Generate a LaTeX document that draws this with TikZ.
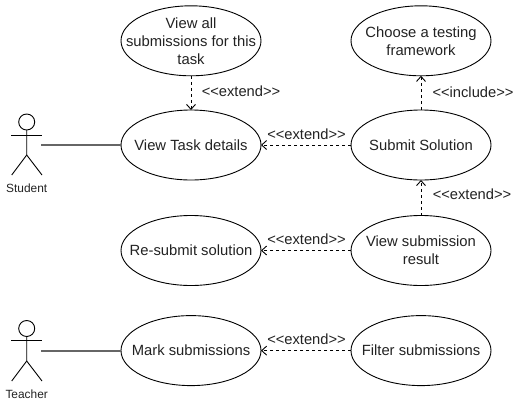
\documentclass[tikz,border=0pt]{standalone}
\usepackage{fontspec}
\setmainfont{Liberation Sans}
\usetikzlibrary{shapes.geometric,arrows.meta}
\definecolor{ink}{HTML}{222222}
\tikzset{
  x=1pt,y=-1pt,
  usecase/.style={draw=black,line width=0.9pt,ellipse,minimum width=140pt,minimum height=70pt,inner xsep=-35pt,inner ysep=-12pt,outer sep=0pt,align=center,font=\fontsize{14.8}{18}\selectfont,text=ink},
  rel/.style={draw=black,line width=0.9pt,dash pattern=on 3pt off 3pt,-{Straight Barb[length=5pt,width=9pt,line width=0.9pt]}},
  assoc/.style={draw=black!60,line width=1.8pt},
  stereo/.style={font=\fontsize{14.7}{16}\selectfont,text=ink,inner sep=0pt},
  actorlabel/.style={font=\fontsize{11.9}{14}\selectfont,text=ink,inner sep=0pt},
  actorline/.style={draw=black,line width=0.9pt}
}
\begin{document}
\begin{tikzpicture}
\useasboundingbox (0,0) rectangle (520,407);
% use cases
\node[usecase] (viewall) at (191,40.8) {View all\\submissions for this\\task};
\node[usecase] (task) at (191,145) {View Task details};
\node[usecase] (resubmit) at (191,250.5) {Re-submit solution};
\node[usecase] (mark) at (191,350.6) {Mark submissions};
\node[usecase] (choose) at (421,40.8) {Choose a testing\\framework};
\node[usecase] (submit) at (421,145) {Submit Solution};
\node[usecase] (result) at (421,250.5) {View submission\\result};
\node[usecase] (filter) at (421,350.6) {Filter submissions};
% student
\draw[actorline] (26.7,122) circle (8);
\draw[actorline] (11,135) -- (42,135);
\draw[actorline] (26.7,130) -- (26.7,155) -- (11.7,175);
\draw[actorline] (26.7,155) -- (42,175);
\coordinate (studenthand) at (41,145);
\node[actorlabel] (student) at (26.7,188.5) {Student};
% teacher
\draw[actorline] (26.7,328.5) circle (8);
\draw[actorline] (11,340.7) -- (42,340.7);
\draw[actorline] (26.7,336.5) -- (26.7,361) -- (11.7,381);
\draw[actorline] (26.7,361) -- (42,381);
\coordinate (teacherhand) at (41,351);
\node[actorlabel] (teacher) at (26.7,394.5) {Teacher};
% associations
\draw[assoc] (studenthand) -- (task.west |- studenthand);
\draw[assoc] (teacherhand) -- (mark.west |- teacherhand);
% relations
\draw[rel] (viewall) -- (task);
\draw[rel] (submit) -- (task);
\draw[rel] (submit) -- (choose);
\draw[rel] (result) -- (submit);
\draw[rel] (result) -- (resubmit);
\draw[rel] (filter) -- (mark);
% labels
\node[stereo] (l1) at (241,91) {<{}<extend>{}>};
\node[stereo] (l2) at (306.5,134) {<{}<extend>{}>};
\node[stereo] (l3) at (473,92.5) {<{}<include>{}>};
\node[stereo] (l4) at (472,194) {<{}<extend>{}>};
\node[stereo] (l5) at (306.5,239) {<{}<extend>{}>};
\node[stereo] (l6) at (306.5,339) {<{}<extend>{}>};
\end{tikzpicture}
\end{document}
